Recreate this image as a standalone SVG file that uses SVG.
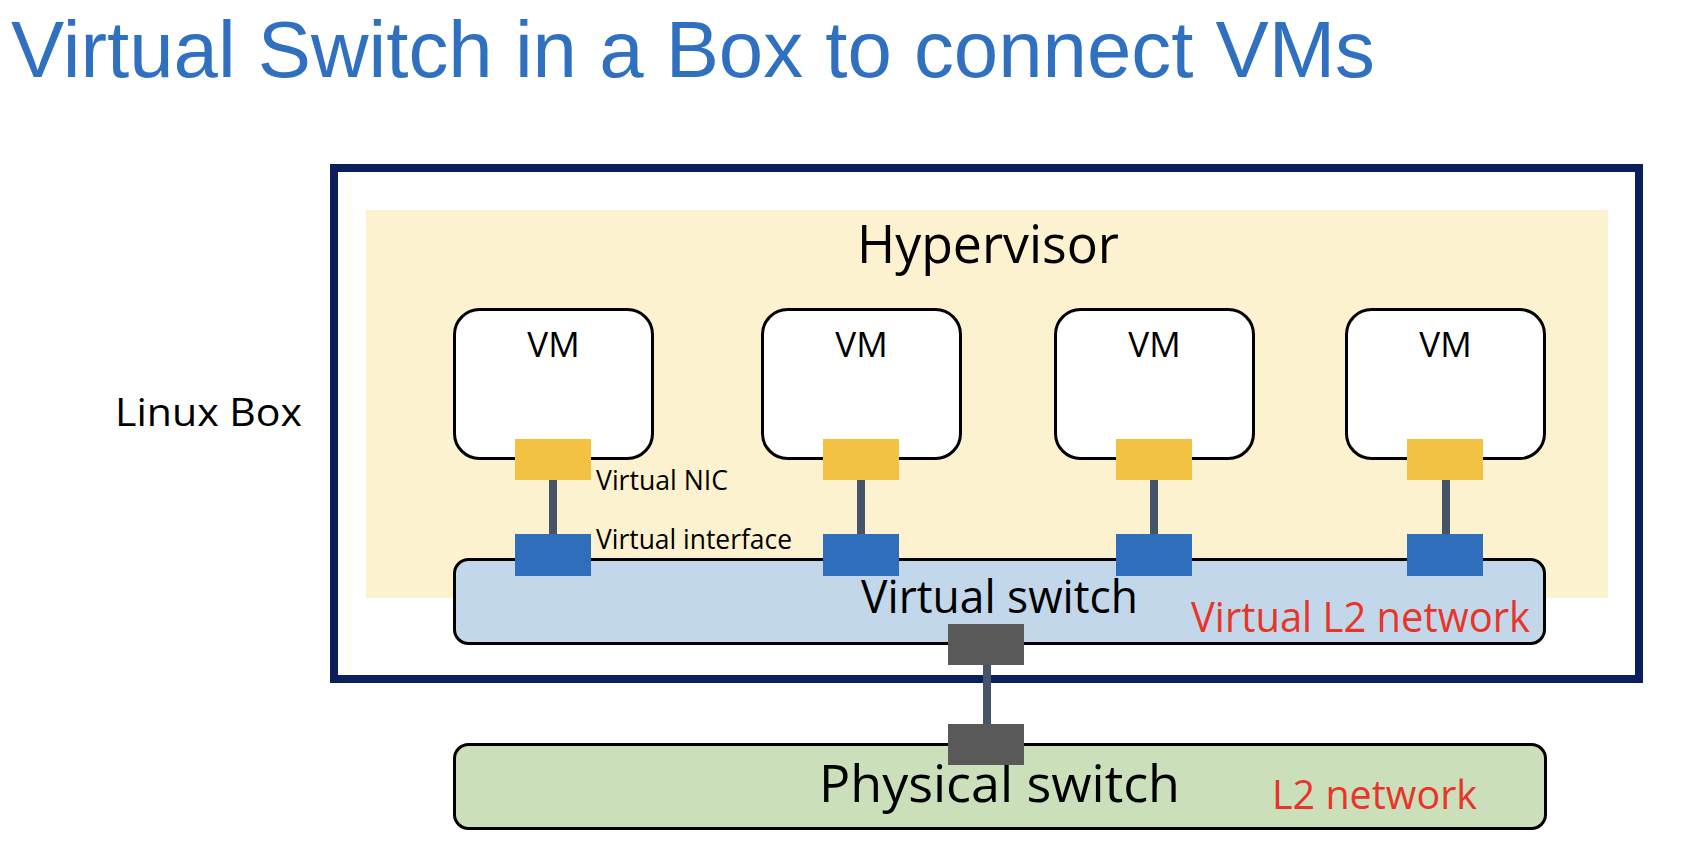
<svg xmlns="http://www.w3.org/2000/svg" width="1684" height="850" viewBox="0 0 1684 850">
<style>
.lbl{font-family:"Open Sans","Noto Sans","DejaVu Sans",sans-serif;fill:#000}
.red{font-family:"Open Sans","Noto Sans","DejaVu Sans",sans-serif;fill:#e8352a}
.vm{fill:#fff;stroke:#000;stroke-width:3}
.nic{fill:#f4c242}
.vif{fill:#2f6ebb}
.gp{fill:#595959}
.conn{stroke:#465468;stroke-width:8;fill:none}
</style>
<rect width="1684" height="850" fill="#fff"/>
<text x="11" y="77" font-family="'Liberation Sans',Arial,sans-serif" font-size="80" fill="#3070c0" textLength="1364" lengthAdjust="spacingAndGlyphs">Virtual Switch in a Box to connect VMs</text>

<g id="linux-box">
<rect x="334" y="168" width="1305" height="511" fill="none" stroke="#0b1f5c" stroke-width="8"/>
<text class="lbl" x="115" y="426" font-size="39" textLength="187" lengthAdjust="spacingAndGlyphs">Linux Box</text>
</g>

<g id="hypervisor">
<rect x="366" y="210" width="1242" height="388" fill="#fdf2d0"/>
<text class="lbl" x="857" y="263" font-size="53" textLength="262" lengthAdjust="spacingAndGlyphs">Hypervisor</text>
</g>

<g id="virtual-switch">
<rect x="454.5" y="559.5" width="1090" height="84" rx="14" fill="#c3d7eb" stroke="#000" stroke-width="3"/>
<text class="lbl" x="861" y="613" font-size="45" textLength="277" lengthAdjust="spacingAndGlyphs">Virtual switch</text>
<text class="red" x="1191" y="632" font-size="42" textLength="339" lengthAdjust="spacingAndGlyphs">Virtual L2 network</text>
</g>

<g id="physical-switch">
<rect x="454.5" y="744.5" width="1091" height="84" rx="14" fill="#cbdfbb" stroke="#000" stroke-width="3"/>
<text class="lbl" x="819" y="802" font-size="52" textLength="361" lengthAdjust="spacingAndGlyphs">Physical switch</text>
<text class="red" x="1272" y="809" font-size="41" textLength="205" lengthAdjust="spacingAndGlyphs">L2 network</text>
</g>

<g id="vm1">
<rect class="vm" x="454.5" y="309.5" width="198" height="149" rx="25"/>
<text class="lbl" x="553.5" y="357" font-size="35" text-anchor="middle">VM</text>
</g>
<g id="vm2">
<rect class="vm" x="762.5" y="309.5" width="198" height="149" rx="25"/>
<text class="lbl" x="861.5" y="357" font-size="35" text-anchor="middle">VM</text>
</g>
<g id="vm3">
<rect class="vm" x="1055.5" y="309.5" width="198" height="149" rx="25"/>
<text class="lbl" x="1154.5" y="357" font-size="35" text-anchor="middle">VM</text>
</g>
<g id="vm4">
<rect class="vm" x="1346.5" y="309.5" width="198" height="149" rx="25"/>
<text class="lbl" x="1445.5" y="357" font-size="35" text-anchor="middle">VM</text>
</g>

<g id="connectors">
<line class="conn" x1="553" y1="480" x2="553" y2="534"/>
<line class="conn" x1="861" y1="480" x2="861" y2="534"/>
<line class="conn" x1="1154" y1="480" x2="1154" y2="534"/>
<line class="conn" x1="1446" y1="480" x2="1446" y2="534"/>
<line class="conn" x1="987" y1="665" x2="987" y2="724"/>
</g>

<g id="virtual-nics">
<rect class="nic" x="515" y="439" width="76" height="41"/>
<rect class="nic" x="823" y="439" width="76" height="41"/>
<rect class="nic" x="1116" y="439" width="76" height="41"/>
<rect class="nic" x="1407" y="439" width="76" height="41"/>
<text class="lbl" x="596" y="490" font-size="27" textLength="132" lengthAdjust="spacingAndGlyphs">Virtual NIC</text>
</g>

<g id="virtual-interfaces">
<rect class="vif" x="515" y="534" width="76" height="42"/>
<rect class="vif" x="823" y="534" width="76" height="42"/>
<rect class="vif" x="1116" y="534" width="76" height="42"/>
<rect class="vif" x="1407" y="534" width="76" height="42"/>
<text class="lbl" x="596" y="549" font-size="27" textLength="196" lengthAdjust="spacingAndGlyphs">Virtual interface</text>
</g>

<g id="uplink-ports">
<rect class="gp" x="948" y="624" width="76" height="41"/>
<rect class="gp" x="948" y="724" width="76" height="41"/>
</g>
</svg>
